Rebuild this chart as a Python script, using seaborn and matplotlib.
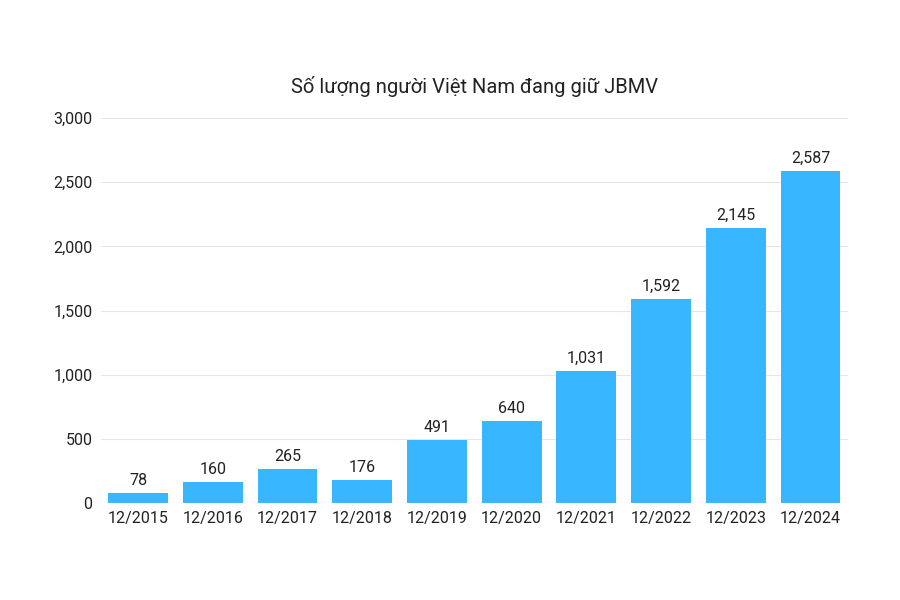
import matplotlib
matplotlib.use("Agg")
import matplotlib.pyplot as plt
import seaborn as sns
import pandas as pd

categories = ["12/2015","12/2016","12/2017","12/2018","12/2019","12/2020","12/2021","12/2022","12/2023","12/2024"]
values = [78,160,265,176,491,640,1031,1592,2145,2587]
yticks = [0,500,1000,1500,2000,2500,3000]

sns.set_theme(style="white")
plt.rcParams['font.family'] = ['Roboto', 'DejaVu Sans']

df = pd.DataFrame({"cat": categories, "val": values})
fig = plt.figure(figsize=(9,6), dpi=100)
ax = fig.add_axes([0.112, 0.162, 0.83, 0.641])
sns.barplot(data=df, x="cat", y="val", color="#38B6FF", saturation=1, width=0.8, ax=ax, zorder=3)
for p in ax.patches:
    p.set_edgecolor("none")
for i, v in enumerate(values):
    ax.text(i, v + 40, f"{v:,}", ha="center", va="bottom", fontsize=11.5, color="#222222")
ax.set_ylim(0, 3000)
ax.set_xlim(-0.5, len(categories)-0.5)
ax.set_yticks(yticks)
ax.set_yticklabels([f"{t:,}" for t in yticks])
ax.yaxis.grid(True, color="#e6e6e6", linewidth=0.8, zorder=0)
ax.set_axisbelow(True)
for s in ax.spines.values():
    s.set_visible(False)
ax.axhline(0, color="#cccccc", linewidth=0.8, zorder=4)
ax.set_xlabel(""); ax.set_ylabel("")
ax.tick_params(axis="both", labelsize=11.5, colors="#222222", length=0, pad=6)
ax.set_title("Số lượng người Việt Nam đang giữ JBMV", pad=18, fontsize=14.5, color="#222222")
fig.savefig("out.png", dpi=100, facecolor="white")
